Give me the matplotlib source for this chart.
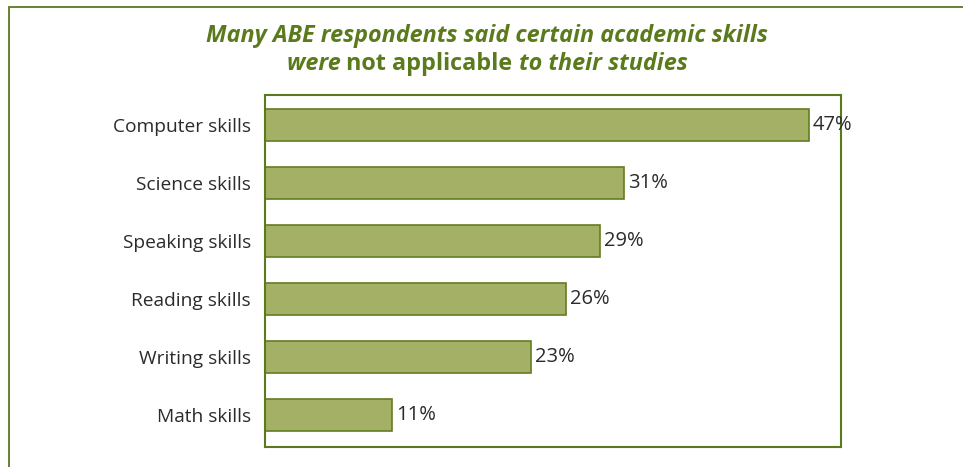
import matplotlib.pyplot as plt
from matplotlib.patches import Rectangle

skills = ["Computer skills", "Science skills", "Speaking skills",
          "Reading skills", "Writing skills", "Math skills"]
pct = [47, 31, 29, 26, 23, 11]

green = "#5b7a1c"
bar_fill = "#a3b065"
bar_edge = "#637d22"
text_col = "#2b2b2b"

plt.rcParams['font.family'] = ['Open Sans', 'DejaVu Sans']

fig = plt.figure(figsize=(9.63, 4.67), dpi=100)
W, H = 963, 467

# outer frame, running off the right and bottom edges
fig.patches.append(Rectangle((8.5 / W, -0.1), 1.2, 1 - 6.5 / H + 0.1,
                             transform=fig.transFigure, fill=False,
                             edgecolor=green, lw=1.3))

ax = fig.add_axes([265 / W, 1 - 447 / H, (841 - 265) / W, (447 - 95) / H])
y = list(range(len(skills)))
ax.barh(y, pct, height=0.55, color=bar_fill, edgecolor=bar_edge, lw=1.2)
for yi, v in zip(y, pct):
    ax.text(v + 0.35, yi, f"{v}%", va="center", ha="left",
            fontsize=14.5, color=text_col, zorder=5)

ax.set_xlim(0, 49.8)
ax.set_ylim(5.55, -0.52)
ax.set_yticks(y)
ax.set_yticklabels(skills, fontsize=13.8, color=text_col)
ax.tick_params(axis="y", length=0, pad=10)
ax.set_xticks([])
for s in ax.spines.values():
    s.set_color(green)
    s.set_linewidth(1.5)

# title: two lines, second line mixes italic and upright bold
tkw = dict(fontsize=16.8, fontweight="bold", color=green, ha="center", va="baseline")
fig.text(487 / W, 1 - 42 / H, "Many ABE respondents said certain academic skills",
         style="italic", **tkw)

parts = [("were ", "italic"), ("not applicable ", "normal"),
         ("to their studies", "italic")]
fig.canvas.draw()
r = fig.canvas.get_renderer()
pieces = []
for s, st in parts:
    t = fig.text(0, 1 - 70 / H, s, fontsize=16.8, fontweight="bold",
                 color=green, style=st, ha="left", va="baseline")
    pieces.append(t)
widths = [t.get_window_extent(r).width for t in pieces]
x0 = 487 - sum(widths) / 2
for t, w in zip(pieces, widths):
    t.set_x(x0 / W)
    x0 += w

fig.savefig("out.png", dpi=100)
